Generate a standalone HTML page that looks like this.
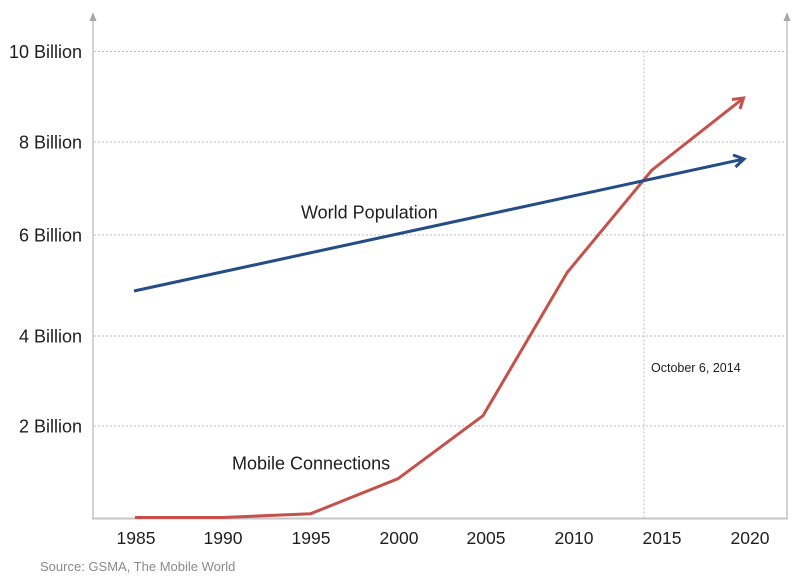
<!DOCTYPE html>
<html>
<head>
<meta charset="utf-8">
<style>
  html,body{margin:0;padding:0;background:#fff;}
  svg{display:block;}
  text{font-family:"Liberation Sans",Arial,sans-serif;}
</style>
</head>
<body>
<svg width="803" height="578" viewBox="0 0 803 578" xmlns="http://www.w3.org/2000/svg">
  <rect width="803" height="578" fill="#fff"/>
  <!-- gridlines -->
  <g stroke="#bdbdbd" stroke-width="1" stroke-dasharray="2,2" fill="none">
    <line x1="94" y1="51.5" x2="787" y2="51.5"/>
    <line x1="94" y1="142" x2="787" y2="142"/>
    <line x1="94" y1="235" x2="787" y2="235"/>
    <line x1="94" y1="336" x2="787" y2="336"/>
    <line x1="94" y1="426" x2="787" y2="426"/>
    <line x1="644" y1="51.5" x2="644" y2="518"/>
  </g>
  <!-- axes -->
  <g stroke="#c6c6c6" fill="none">
    <line x1="93" y1="19" x2="93" y2="519" stroke-width="1.5"/>
    <line x1="787" y1="19" x2="787" y2="519" stroke-width="1.5"/>
    <line x1="92" y1="518.5" x2="788" y2="518.5" stroke-width="2"/>
  </g>
  <polygon points="93,12 89.5,21 96.5,21" fill="#a8a8a8"/>
  <polygon points="787,12 783.5,21 790.5,21" fill="#a8a8a8"/>
  <!-- y labels -->
  <g font-size="18" fill="#1e1e1e" text-anchor="end">
    <text x="82" y="58">10 Billion</text>
    <text x="82" y="148.5">8 Billion</text>
    <text x="82" y="241.5">6 Billion</text>
    <text x="82" y="342.5">4 Billion</text>
    <text x="82" y="432.5">2 Billion</text>
  </g>
  <!-- x labels -->
  <g font-size="17.5" fill="#1e1e1e" text-anchor="middle">
    <text x="136" y="544">1985</text>
    <text x="223" y="544">1990</text>
    <text x="311" y="544">1995</text>
    <text x="399" y="544">2000</text>
    <text x="486" y="544">2005</text>
    <text x="574" y="544">2010</text>
    <text x="662" y="544">2015</text>
    <text x="750" y="544">2020</text>
  </g>
  <!-- series -->
  <polyline points="135,517.5 223,517.5 310.7,513.7 398,478.7 483,415.7 567,272.7 652,170 743,98.5" fill="none" stroke="#c6504c" stroke-width="3" stroke-linejoin="round"/>
  <polyline points="732,99.5 743.5,98 740,109" fill="none" stroke="#c6504c" stroke-width="3" stroke-linejoin="miter"/>
  <line x1="134" y1="291" x2="743" y2="159.2" stroke="#244d86" stroke-width="3"/>
  <polyline points="733,155 744,159 735.5,167" fill="none" stroke="#244d86" stroke-width="3"/>
  <!-- annotations -->
  <text x="301" y="218.5" font-size="18" fill="#1e1e1e">World Population</text>
  <text x="232" y="469.5" font-size="18" fill="#1e1e1e">Mobile Connections</text>
  <text x="651" y="372" font-size="12.5" fill="#1e1e1e">October 6, 2014</text>
  <text x="40" y="571" font-size="13" fill="#8a8a8a">Source: GSMA, The Mobile World</text>
</svg>
</body>
</html>
